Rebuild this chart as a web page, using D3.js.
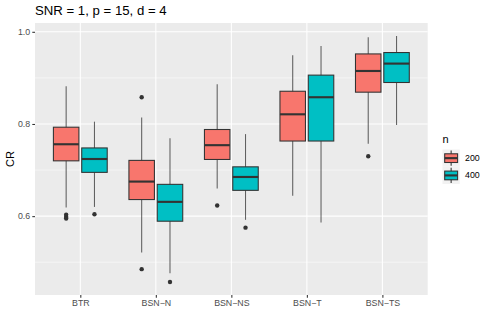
<!DOCTYPE html>
<html>
<head>
<meta charset="utf-8">
<script src="https://cdnjs.cloudflare.com/ajax/libs/d3/7.8.5/d3.min.js"></script>
<style>
  body { margin: 0; background: #fff; }
  text { font-family: "Liberation Sans", Arial, sans-serif; }
</style>
</head>
<body>
<div id="chart"></div>
<script>
var width = 491;
var height = 327;

// data
var categories = ["BTR", "BSN\u2212N", "BSN\u2212NS", "BSN\u2212T", "BSN\u2212TS"];
var groups = ["200", "400"];
var colors = ["#F8766D", "#00BFC4"];
var yTicks = [0.6, 0.8, 1.0];
var yMinor = [0.5, 0.7, 0.9];

// per group: one value per category
var whiskLo = {
  "200": [0.619, 0.521, 0.660, 0.644, 0.757],
  "400": [0.620, 0.476, 0.592, 0.586, 0.798]
};
var q1 = {
  "200": [0.720, 0.636, 0.723, 0.763, 0.869],
  "400": [0.695, 0.589, 0.656, 0.763, 0.890]
};
var median = {
  "200": [0.756, 0.675, 0.754, 0.821, 0.915],
  "400": [0.724, 0.631, 0.685, 0.858, 0.931]
};
var q3 = {
  "200": [0.793, 0.721, 0.788, 0.871, 0.952],
  "400": [0.748, 0.669, 0.707, 0.906, 0.955]
};
var whiskHi = {
  "200": [0.882, 0.814, 0.886, 0.949, 0.988],
  "400": [0.805, 0.769, 0.778, 0.969, 0.991]
};
var outliers = {
  "200": [[0.603, 0.598, 0.595], [0.858, 0.485], [0.623], [], [0.730]],
  "400": [[0.604], [0.457], [0.575], [], []]
};

var margin = {left: 35, right: 63.3, top: 23, bottom: 32};
var pw = width - margin.left - margin.right;
var ph = height - margin.top - margin.bottom;

var svg = d3.select("#chart").append("svg")
    .attr("width", width)
    .attr("height", height);

var x = d3.scalePoint()
    .domain(categories)
    .range([0, pw])
    .padding(0.6);

var y = d3.scaleLinear()
    .domain([0.4289, 1.0191])
    .range([ph, 0]);

var step = x.step();
var boxW = step * 0.375 * 0.9;
var dodge = d3.scalePoint().domain(groups).range([-step * 0.1875, step * 0.1875]);

var g = svg.append("g")
    .attr("transform", "translate(" + margin.left + "," + margin.top + ")");

// panel
g.append("rect")
    .attr("width", pw)
    .attr("height", ph)
    .attr("fill", "#EBEBEB");

g.selectAll(".minor")
    .data(yMinor)
    .enter().append("line")
    .attr("x1", 0).attr("x2", pw)
    .attr("y1", y).attr("y2", y)
    .attr("stroke", "#fff")
    .attr("stroke-width", 0.53);

g.selectAll(".hmajor")
    .data(yTicks)
    .enter().append("line")
    .attr("x1", 0).attr("x2", pw)
    .attr("y1", y).attr("y2", y)
    .attr("stroke", "#fff")
    .attr("stroke-width", 1.07);

g.selectAll(".vmajor")
    .data(categories)
    .enter().append("line")
    .attr("x1", x).attr("x2", x)
    .attr("y1", 0).attr("y2", ph)
    .attr("stroke", "#fff")
    .attr("stroke-width", 1.07);

// boxes
groups.forEach(function (grp, gi) {
    var rows = categories.map(function (c, i) {
        return {
            cx: x(c) + dodge(grp),
            lo: whiskLo[grp][i], q1: q1[grp][i], med: median[grp][i],
            q3: q3[grp][i], hi: whiskHi[grp][i], out: outliers[grp][i]
        };
    });

    var bg = g.append("g");

    bg.selectAll(".whisk")
        .data(rows)
        .enter().append("line")
        .attr("x1", function (d) { return d.cx; })
        .attr("x2", function (d) { return d.cx; })
        .attr("y1", function (d) { return y(d.hi); })
        .attr("y2", function (d) { return y(d.lo); })
        .attr("stroke", "#333333")
        .attr("stroke-opacity", 0.75)
        .attr("stroke-width", 1.07);

    bg.selectAll(".box")
        .data(rows)
        .enter().append("rect")
        .attr("x", function (d) { return d.cx - boxW / 2; })
        .attr("width", boxW)
        .attr("y", function (d) { return y(d.q3); })
        .attr("height", function (d) { return y(d.q1) - y(d.q3); })
        .attr("fill", colors[gi])
        .attr("stroke", "#333333")
        .attr("stroke-width", 1.07);

    bg.selectAll(".med")
        .data(rows)
        .enter().append("line")
        .attr("x1", function (d) { return d.cx - boxW / 2; })
        .attr("x2", function (d) { return d.cx + boxW / 2; })
        .attr("y1", function (d) { return y(d.med); })
        .attr("y2", function (d) { return y(d.med); })
        .attr("stroke", "#333333")
        .attr("stroke-width", 2.13);

    rows.forEach(function (d) {
        bg.selectAll(null)
            .data(d.out)
            .enter().append("circle")
            .attr("cx", d.cx)
            .attr("cy", y)
            .attr("r", 2.2)
            .attr("fill", "#333333");
    });
});

// axes
var yAxis = g.append("g")
    .call(d3.axisLeft(y).tickValues(yTicks).tickFormat(d3.format(".1f")).tickSize(2.7).tickPadding(2.2));
var xAxis = g.append("g")
    .attr("transform", "translate(0," + ph + ")")
    .call(d3.axisBottom(x).tickSize(2.7).tickPadding(2.2));

[yAxis, xAxis].forEach(function (a) {
    a.select(".domain").remove();
    a.selectAll("line").attr("stroke", "#333333").attr("stroke-width", 1.07);
    a.selectAll("text")
        .attr("fill", "#4D4D4D")
        .style("font-size", "8.8px")
        .style("font-family", "Liberation Sans, Arial, sans-serif");
});

// title and axis label
svg.append("text")
    .attr("x", margin.left)
    .attr("y", 15)
    .attr("font-size", "13.2px")
    .attr("fill", "#000")
    .text("SNR = 1, p = 15, d = 4");

svg.append("text")
    .attr("transform", "translate(14," + (margin.top + ph / 2) + ") rotate(-90)")
    .attr("text-anchor", "middle")
    .attr("font-size", "11px")
    .attr("fill", "#000")
    .text("CR");

// legend
var legend = svg.append("g")
    .attr("transform", "translate(442.5,133)");

legend.append("text")
    .attr("x", 0)
    .attr("y", 10)
    .attr("font-size", "11px")
    .text("n");

var keys = legend.selectAll(".key")
    .data(groups)
    .enter().append("g")
    .attr("transform", function (d, i) { return "translate(0," + (16.5 + i * 17.28) + ")"; });

keys.append("rect")
    .attr("width", 17.28).attr("height", 17.28)
    .attr("fill", "#F2F2F2");

keys.append("line")
    .attr("x1", 8.64).attr("x2", 8.64)
    .attr("y1", 1).attr("y2", 16.3)
    .attr("stroke", "#333333")
    .attr("stroke-width", 1.07);

keys.append("rect")
    .attr("x", 2.2).attr("y", 4.3)
    .attr("width", 12.9).attr("height", 8.7)
    .attr("fill", function (d, i) { return colors[i]; })
    .attr("stroke", "#333333")
    .attr("stroke-width", 1.07);

keys.append("line")
    .attr("x1", 2.2).attr("x2", 15.1)
    .attr("y1", 8.64).attr("y2", 8.64)
    .attr("stroke", "#333333")
    .attr("stroke-width", 2.13);

keys.append("text")
    .attr("x", 22.5)
    .attr("y", 8.64)
    .attr("dy", "0.35em")
    .attr("font-size", "8.8px")
    .text(function (d) { return d; });
</script>
</body>
</html>
